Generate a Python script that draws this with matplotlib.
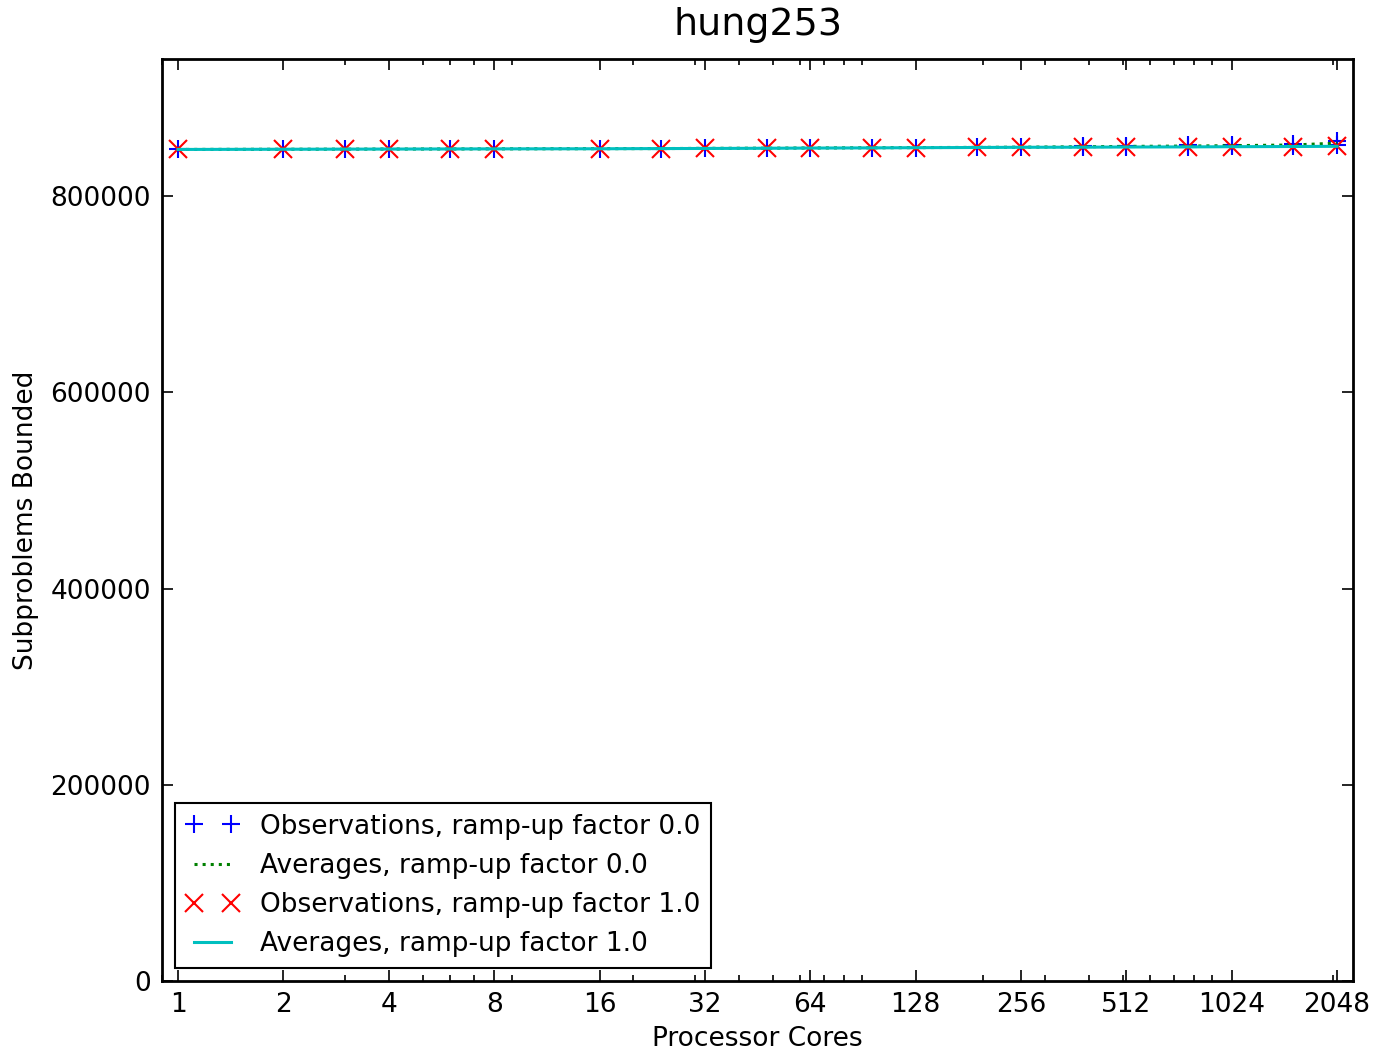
import matplotlib
matplotlib.use('Agg')
import matplotlib.pyplot as plt
from matplotlib.ticker import FixedLocator, NullFormatter, LogLocator

cores = [1, 2, 3, 4, 6, 8, 16, 24, 32, 48, 64, 96, 128, 192, 256, 384, 512, 768, 1024, 1536, 2048]
tick_vals = [1, 2, 4, 8, 16, 32, 64, 128, 256, 512, 1024, 2048]

obs_r0_x = [1, 2, 3, 4, 6, 8, 16, 24, 32, 48, 64, 96, 128, 192, 256,
            384, 384, 512, 512, 768, 768, 1024, 1024, 1536, 1536, 2048, 2048]
obs_r0_y = [847800, 848000, 848100, 848200, 848300, 848400, 848600, 848700, 848900, 849100,
            849300, 849500, 849700, 849900, 850100,
            850200, 850900, 850400, 851400, 850600, 851900, 850900, 852400,
            851400, 853300, 852500, 856000]
avg_r0 = [847800, 848000, 848100, 848200, 848300, 848400, 848600, 848700, 848900, 849100,
          849300, 849500, 849700, 849900, 850100, 850550, 850900, 851250, 851650, 852350, 854250]

obs_r1_y = [847800, 848000, 848100, 848200, 848300, 848400, 848500, 848700, 848800, 849000,
            849200, 849400, 849600, 849800, 850000, 850100, 850300, 850400, 850600, 850800, 851000]
avg_r1 = obs_r1_y

fs = 19
plt.rcParams['font.family'] = ['DejaVu Sans']
plt.rcParams['font.size'] = fs

fig = plt.figure(figsize=(13.79, 10.52), dpi=100)
ax = fig.add_axes([0.1175, 0.0675, 0.8637, 0.8764])

ax.plot(obs_r0_x, obs_r0_y, 'b+', markersize=13, markeredgewidth=1.5,
        label='Observations, ramp-up factor 0.0')
ax.plot(cores, avg_r0, 'g:', linewidth=2.2, label='Averages, ramp-up factor 0.0')
ax.plot(cores, obs_r1_y, 'rx', markersize=13, markeredgewidth=1.5,
        label='Observations, ramp-up factor 1.0')
ax.plot(cores, avg_r1, 'c-', linewidth=2.2, label='Averages, ramp-up factor 1.0')

ax.set_xscale('log')
ax.set_xlim(0.9, 2275)
ax.set_ylim(0, 940000)
ax.xaxis.set_major_locator(FixedLocator(tick_vals))
ax.set_xticklabels([str(v) for v in tick_vals])
ax.xaxis.set_minor_locator(LogLocator(base=10, subs=[2, 3, 4, 5, 6, 7, 8, 9]))
ax.xaxis.set_minor_formatter(NullFormatter())
ax.set_yticks([0, 200000, 400000, 600000, 800000])
ax.set_yticklabels(['0', '200000', '400000', '600000', '800000'])

ax.tick_params(which='both', direction='in', top=True, right=True, labelsize=fs)
ax.tick_params(which='major', length=8, width=1.2, pad=8)
ax.tick_params(which='minor', length=4, width=1.2)
for s in ax.spines.values():
    s.set_linewidth(2)

ax.set_title('hung253', fontsize=fs * 1.44, pad=17)
ax.set_xlabel('Processor Cores', fontsize=fs, labelpad=6)
ax.set_ylabel('Subproblems Bounded', fontsize=fs, labelpad=8)

leg = ax.legend(loc='lower left', numpoints=2, fancybox=False, fontsize=fs,
                borderaxespad=0.5, handlelength=2.0, labelspacing=0.5)
leg.get_frame().set_edgecolor('black')
leg.get_frame().set_linewidth(1.5)
leg.get_frame().set_alpha(1)

fig.savefig('out.png', dpi=100, facecolor='white')
